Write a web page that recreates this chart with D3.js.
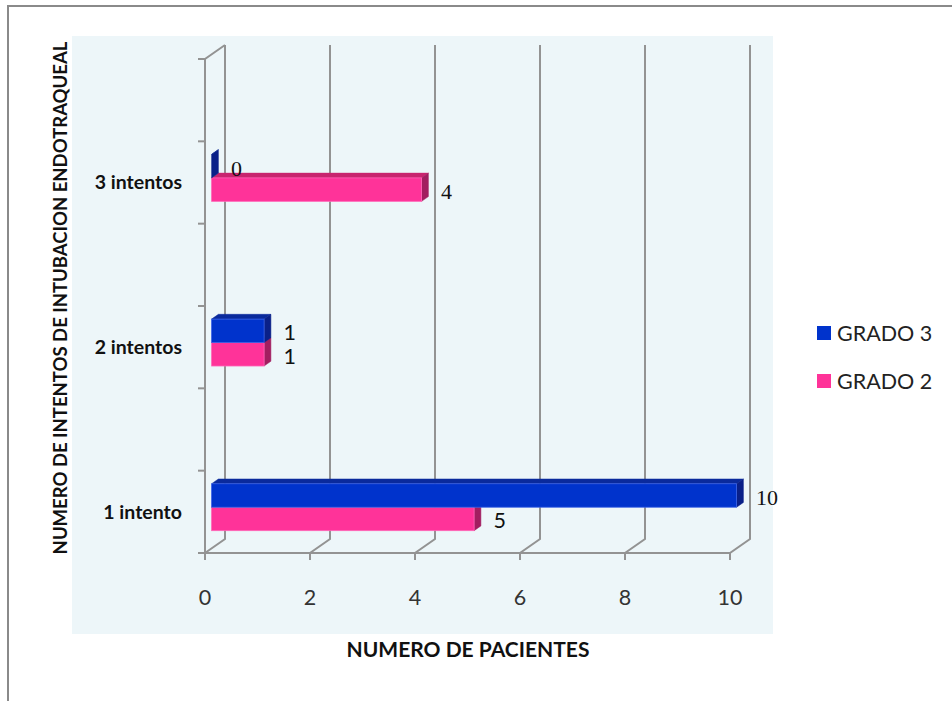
<!DOCTYPE html>
<html><head><meta charset="utf-8">
<script src="https://cdn.jsdelivr.net/npm/d3@7"></script>
<style>body{margin:0;background:#fff}</style>
</head><body><svg id="chart" width="952" height="701"></svg>
<script>
// Intubation attempts by patient grade
const categories = ["1 intento", "2 intentos", "3 intentos"];
const grado3 = [10, 1, 0];
const grado2 = [5, 1, 4];
const seriesNames = ["GRADO 3", "GRADO 2"];
const xTicks = [0, 2, 4, 6, 8, 10];
const yTitle = "NUMERO DE INTENTOS DE INTUBACION ENDOTRAQUEAL";
const xTitle = "NUMERO DE PACIENTES";

const svg = d3.select("#chart");
const sans = "Lato, 'Open Sans', sans-serif";
const serif = "'Liberation Serif', 'DejaVu Serif', serif";

// chart frame and plot background
svg.append("rect").attr("x", 8).attr("y", 6).attr("width", 980).attr("height", 740)
  .attr("fill", "#fff").attr("stroke", "#8a8a8a").attr("stroke-width", 2);
svg.append("rect").attr("x", 72).attr("y", 36).attr("width", 701).attr("height", 598)
  .attr("fill", "#edf6f9");

// value scale along the floor front edge; category axis uses two slots per category
const x = d3.scaleLinear().domain([0, 10]).range([205, 730]);
const nSlots = categories.length * 2;
const slot = d3.scaleLinear().domain([0, nSlots]).range([553, 59]);
const D = { dx: 20, dy: -14 };   // depth projection of the 3D box
const t0 = 0.33, t1 = 0.67;       // front/back planes of the bars within the depth

const grid = svg.append("g").attr("stroke", "#939393").attr("stroke-width", 2).attr("fill", "none");
// back-wall gridlines with their floor diagonals and front ticks
xTicks.forEach(v => {
  const xf = x(v), xb = x(v) + D.dx;
  grid.append("path").attr("d",
    `M${xb},${slot(nSlots) + D.dy}V${slot(0) + D.dy}L${xf},${slot(0)}V${slot(0) + 7}`);
});
// floor front edge
grid.append("line").attr("x1", x(0)).attr("x2", x(10)).attr("y1", slot(0)).attr("y2", slot(0));
// side wall front edge with its top diagonal
grid.append("path").attr("d",
  `M${x(0)},${slot(0)}V${slot(nSlots)}L${x(0) + D.dx},${slot(nSlots) + D.dy}`);
// category axis ticks
d3.range(nSlots + 1).forEach(k => {
  grid.append("line").attr("x1", x(0) - 7).attr("x2", x(0)).attr("y1", slot(k)).attr("y2", slot(k));
});

// value tick labels
svg.append("g").selectAll("text").data(xTicks).join("text")
  .attr("x", d => x(d)).attr("y", 597).attr("dy", "0.35em")
  .attr("text-anchor", "middle").attr("font-family", sans).attr("font-size", 21.5)
  .attr("fill", "#333").text(d => d);

// category labels
svg.append("g").selectAll("text").data(categories).join("text")
  .attr("x", 182).attr("y", (d, i) => slot(2 * i + 0.5)).attr("dy", "0.35em")
  .attr("text-anchor", "end").attr("font-family", sans).attr("font-weight", "bold")
  .attr("font-size", 19.5).attr("fill", "#111").text(d => d);

// 3D bars
const series = [
  { name: seriesNames[1], values: grado2, side: 1, front: "#ff3399", top: "#c8246f", right: "#a21e60", edge: "#ff66b8" },
  { name: seriesNames[0], values: grado3, side: -1, front: "#0033cc", top: "#0a2a9c", right: "#0a2088", edge: "#3a62e6" }
];
const slotH = slot(0) - slot(1);
const barH = slotH * 0.285;
const ddx = D.dx * (t1 - t0), ddy = D.dy * (t1 - t0);
const bars = svg.append("g");
const serifLabels = new Set(["GRADO 3:0", "GRADO 3:2", "GRADO 2:2"]);

categories.forEach((c, i) => {
  const cy = slot(2 * i + 0.5) + D.dy * t0;
  series.forEach(s => {
    const v = s.values[i];
    const y0 = s.side < 0 ? cy - barH : cy;
    const y1 = y0 + barH;
    const x0 = x(0) + D.dx * t0;
    const x1 = x(v) + D.dx * t0;
    const g = bars.append("g");
    g.append("path").attr("fill", s.top).attr("stroke", s.top).attr("stroke-width", 0.5)
      .attr("d", `M${x0},${y0}L${x1},${y0}L${x1 + ddx},${y0 + ddy}L${x0 + ddx},${y0 + ddy}Z`);
    g.append("path").attr("fill", s.right).attr("stroke", s.right).attr("stroke-width", 0.5)
      .attr("d", `M${x1},${y0}L${x1 + ddx},${y0 + ddy}L${x1 + ddx},${y1 + ddy}L${x1},${y1}Z`);
    if (v > 0) {
      g.append("rect").attr("x", x0).attr("y", y0).attr("width", x1 - x0).attr("height", barH)
        .attr("fill", s.front).attr("stroke", s.edge).attr("stroke-width", 0.8);
    }
    const key = s.name + ":" + i;
    g.append("text").attr("x", x(v) + 26).attr("y", (y0 + y1) / 2 + 2).attr("dy", "0.35em")
      .attr("font-family", serifLabels.has(key) ? serif : sans)
      .attr("font-size", serifLabels.has(key) ? 22 : 21.5).attr("fill", "#111").text(v);
  });
});

// axis titles
svg.append("text").attr("x", 468).attr("y", 650).attr("dy", "0.35em")
  .attr("text-anchor", "middle").attr("font-family", sans).attr("font-weight", "bold")
  .attr("font-size", 21).attr("fill", "#111").text(xTitle);
svg.append("text").attr("transform", "translate(61,298) rotate(-90)").attr("dy", "0.35em")
  .attr("text-anchor", "middle").attr("font-family", sans).attr("font-weight", "bold")
  .attr("font-size", 18.5).attr("fill", "#111").text(yTitle);

// legend
const legend = svg.append("g");
[series[1], series[0]].forEach((s, k) => {
  const ly = 333 + k * 48;
  legend.append("rect").attr("x", 817).attr("y", ly - 7).attr("width", 14).attr("height", 14).attr("fill", s.front);
  legend.append("text").attr("x", 837).attr("y", ly).attr("dy", "0.35em")
    .attr("font-family", sans).attr("font-size", 21.5).attr("fill", "#222").text(s.name);
});
</script></body></html>
